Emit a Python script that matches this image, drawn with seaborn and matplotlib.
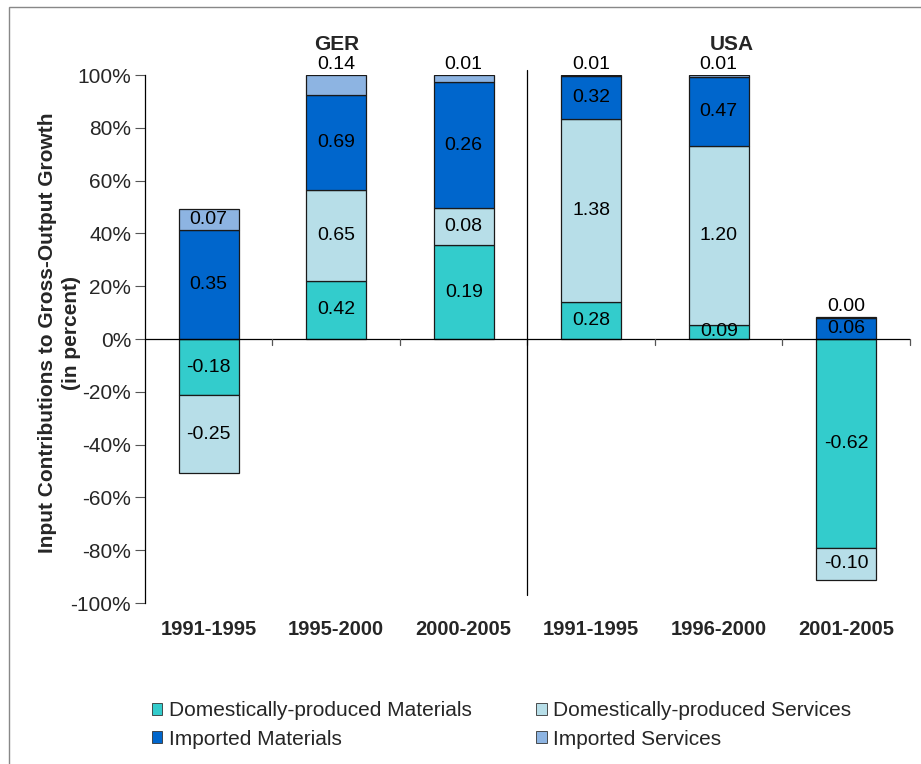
import numpy as np
import pandas as pd
import matplotlib
matplotlib.use("Agg")
import matplotlib.pyplot as plt
from matplotlib.patches import Patch, Rectangle
from matplotlib.ticker import FuncFormatter
import seaborn as sns

# ---------------- data ----------------
countries = ["GER", "GER", "GER", "USA", "USA", "USA"]
periods = ["1991-1995", "1995-2000", "2000-2005", "1991-1995", "1996-2000", "2001-2005"]
series = ["Domestically-produced Materials", "Domestically-produced Services",
          "Imported Materials", "Imported Services"]

# bar heights: share of gross-output growth (percent)
share_dom_mat = [-21.2, 22.0, 35.6, 14.0, 5.5, -79.0]
share_dom_srv = [-29.6, 34.4, 14.0, 69.3, 67.6, -12.4]
share_imp_mat = [41.3, 36.0, 47.7, 16.2, 26.1, 8.1]
share_imp_srv = [7.9, 7.6, 2.7, 0.5, 0.8, 0.3]

# value labels: contributions
lab_dom_mat = ["-0.18", "0.42", "0.19", "0.28", "0.09", "-0.62"]
lab_dom_srv = ["-0.25", "0.65", "0.08", "1.38", "1.20", "-0.10"]
lab_imp_mat = ["0.35", "0.69", "0.26", "0.32", "0.47", "0.06"]
lab_imp_srv = ["0.07", "0.14", "0.01", "0.01", "0.01", "0.00"]

yticks = [-100, -80, -60, -40, -20, 0, 20, 40, 60, 80, 100]

# ---------------- style ----------------
sns.set_theme(style="white")
plt.rcParams["font.family"] = ["Liberation Sans", "DejaVu Sans"]

colors = ["#33CCCC", "#B7DEE8", "#0066CC", "#8DB4E2"]
shares = [share_dom_mat, share_dom_srv, share_imp_mat, share_imp_srv]
labels = [lab_dom_mat, lab_dom_srv, lab_imp_mat, lab_imp_srv]

keys = [f"{c} {p}" for c, p in zip(countries, periods)]

fig = plt.figure(figsize=(9.21, 7.64), dpi=100)
ax = fig.add_axes([0.1574, 0.2107, 0.8306, 0.6911])

pos_bottom = np.zeros(len(keys))
neg_bottom = np.zeros(len(keys))
label_items = []
for s_vals, col, labs, name in zip(shares, colors, labels, series):
    vals = np.array(s_vals, dtype=float)
    bottoms = np.where(vals >= 0, pos_bottom, neg_bottom)
    df = pd.DataFrame({"key": keys, "val": vals})
    sns.barplot(data=df, x="key", y="val", order=keys, bottom=bottoms,
                color=col, saturation=1, width=0.47, edgecolor="#1a1a1a",
                linewidth=0.9, errorbar=None, ax=ax)
    for i in range(len(keys)):
        label_items.append((i, bottoms[i], vals[i], labs[i], name))
    pos_bottom = np.where(vals >= 0, pos_bottom + vals, pos_bottom)
    neg_bottom = np.where(vals < 0, neg_bottom + vals, neg_bottom)

for i, b, v, lab, name in label_items:
    top = b + v
    if name == "Imported Services" and (top >= 95 or abs(v) < 3):
        ax.text(i, top + 0.8, lab, ha="center", va="bottom", fontsize=14, color="black")
    else:
        ax.text(i, b + v / 2, lab, ha="center", va="center", fontsize=14, color="black")

ax.set_xlim(-0.5, len(keys) - 0.5)
ax.set_ylim(-100, 100)
ax.set_yticks(yticks)
ax.yaxis.set_major_formatter(FuncFormatter(lambda v, p: f"{v:.0f}%"))
ax.tick_params(axis="y", which="major", direction="out", length=7, width=0.8,
               color="#555555", left=True, labelsize=15, pad=3)

ax.set_xticks(range(len(keys)))
ax.set_xticklabels(periods, fontweight="bold", fontsize=14.5)
ax.tick_params(axis="x", length=0, pad=12)
ax.set_xlabel("")
ax.set_ylabel("Input Contributions to Gross-Output Growth\n(in percent)",
              fontweight="bold", fontsize=15, linespacing=1.35)
ax.yaxis.set_label_coords(-0.083, 0.511)

for side in ["top", "right", "bottom"]:
    ax.spines[side].set_visible(False)
ax.spines["left"].set_color("black")
ax.spines["left"].set_linewidth(0.9)

# zero line and category-boundary ticks
ax.axhline(0, color="black", linewidth=0.9, zorder=3)
for bnd in np.arange(0.5, len(keys) - 0.4, 1.0):
    ax.plot([bnd, bnd], [0, -2.2], color="#555555", linewidth=0.9, zorder=3, clip_on=False)

# separator between countries
ax.plot([2.5, 2.5], [102, -97], color="black", linewidth=0.9, clip_on=False, zorder=3)

# group titles
ax.text(1, 108, "GER", ha="center", va="bottom", fontsize=15, fontweight="bold")
ax.text(4.1, 108, "USA", ha="center", va="bottom", fontsize=15, fontweight="bold")

# legend (row-wise order like the reference)
handles = [Patch(facecolor=c, edgecolor="#333333", linewidth=0.6) for c in colors]
order = [0, 2, 1, 3]
leg = fig.legend([handles[k] for k in order], [series[k] for k in order],
                 loc="upper left", bbox_to_anchor=(0.156, 0.093),
                 ncol=2, frameon=False, fontsize=15, handlelength=0.5, handleheight=0.5,
                 handletextpad=0.3, columnspacing=3.1, labelspacing=0.45,
                 borderaxespad=0)
# figure border
fig.add_artist(Rectangle((0.0098, -0.05), 1.2, 1.0408, transform=fig.transFigure,
                         fill=False, edgecolor="#888888", linewidth=1.0))

fig.savefig("out.png", dpi=100)
